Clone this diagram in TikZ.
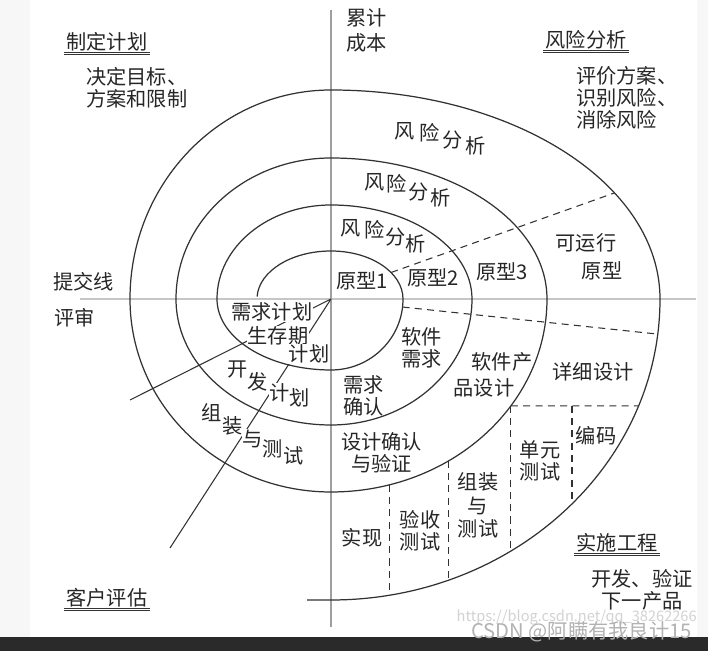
\documentclass[tikz,border=0pt]{standalone}
\usepackage{fontspec}
\setmainfont{Noto Sans CJK SC}
\usepackage{tikz}
\usetikzlibrary{calc}

\definecolor{inkgray}{RGB}{50,50,50}
\definecolor{bargray}{RGB}{42,42,42}

\begin{document}
\begin{tikzpicture}[every node/.style={font=\fontsize{11.5}{12.5}\selectfont},
  spiral/.style={draw=inkgray,line width=0.7pt},
  sector/.style={draw=inkgray,line width=0.6pt,dash pattern=on 4pt off 3pt},
  lbl/.style={inner sep=0.5pt,text=black!85},
  cover/.style={lbl,fill=white},
  hdr/.style={inner sep=1pt,text=black!85},
  uline/.style={draw=black!80,double=white,double distance=0.45pt,line width=0.55pt}]
\useasboundingbox (0,0) rectangle (14.16,13.02);
\fill[black!3] (0,0) rectangle (14.16,13.02);
\fill[white] (0.60,0.28) rectangle (13.94,13.02);
\fill[bargray] (0,0) rectangle (14.16,0.28);

\coordinate (O) at (6.62,7.04);
\coordinate (axtop) at (6.62,12.82);
\coordinate (axbot) at (6.62,0.48);
\coordinate (axleft) at (1.60,7.04);
\coordinate (axright) at (13.92,7.04);
\draw[gray!45,line width=0.8pt] (axleft) -- (axright);
\draw[gray!75,line width=0.8pt] (axtop) -- (axbot);

\draw[spiral] (O) ++(177:1.48 and 0.96)
  arc[start angle=177,end angle=90,x radius=1.48,y radius=0.96]
  arc[start angle=90,end angle=0,x radius=1.44,y radius=0.96]
  arc[start angle=0,end angle=-90,x radius=1.44,y radius=1.42]
  arc[start angle=-90,end angle=-180,x radius=2.28,y radius=1.42]
  arc[start angle=180,end angle=90,x radius=2.28,y radius=1.88]
  arc[start angle=90,end angle=0,x radius=2.82,y radius=1.88]
  arc[start angle=0,end angle=-90,x radius=2.82,y radius=2.52]
  arc[start angle=-90,end angle=-180,x radius=3.10,y radius=2.52]
  arc[start angle=180,end angle=90,x radius=3.10,y radius=2.82]
  arc[start angle=90,end angle=0,x radius=4.32,y radius=2.82]
  arc[start angle=0,end angle=-90,x radius=4.32,y radius=3.86]
  arc[start angle=-90,end angle=-180,x radius=4.02,y radius=3.86]
  arc[start angle=180,end angle=90,x radius=4.02,y radius=4.18]
  arc[start angle=90,end angle=0,x radius=6.58,y radius=4.18]
  arc[start angle=0,end angle=-90,x radius=6.58,y radius=6.02]
  -- ++(-0.48,0);

\coordinate (endA) at (2.60,5.02);
\coordinate (endB) at (3.40,2.06);
\draw[inkgray,line width=0.6pt] (O) -- (endA) (O) -- (endB);

% dashed sectors
\path (O) ++(33.5:1.44 and 0.96) coordinate (d1a);
\path (O) ++(30.5:6.58 and 4.18) coordinate (d1b);
\path (O) ++(-6.5:1.44 and 1.42) coordinate (d2a);
\path (O) ++(-6.7:6.58 and 6.02) coordinate (d2b);
\path (O) ++(-33.6:4.32 and 3.86) coordinate (g1);
\path (O) ++(-20.8:6.58 and 6.02) coordinate (g2);
\path (O) ++(-56.8:6.58 and 6.02) coordinate (v1b);
\path (O) ++(-42.9:6.58 and 6.02) coordinate (v2b);
\path (O) ++(-56.9:4.32 and 3.86) coordinate (v3t);
\path (O) ++(-69.0:6.58 and 6.02) coordinate (v3b);
\path (O) ++(-74.2:4.32 and 3.86) coordinate (v4t);
\path (O) ++(-79.7:6.58 and 6.02) coordinate (v4b);
\draw[sector] (d1a) -- (d1b);
\draw[sector] (d2a) -- (d2b);
\draw[sector] (g1) -- (g2);
\draw[sector] (g1) -- (g1 |- v1b);
\draw[sector] (v2b |- g1) -- (v2b);
\draw[sector] (v3t) -- (v3t |- v3b);
\draw[sector] (v4t) -- (v4t |- v4b);

% quadrant headings
\node[hdr] (plan) at (2.14,12.18) {制定计划};
\draw[uline] (plan.south west) -- (plan.south east);
\node[lbl,anchor=west,align=left] (plantxt) at (1.70,11.26) {决定目标、\\方案和限制};
\node[lbl,anchor=west,align=left] (cost) at (6.90,12.41) {累计\\[1.7pt]成本};
\node[hdr] (risk) at (11.72,12.22) {风险分析};
\draw[uline] (risk.south west) -- (risk.south east);
\node[lbl,anchor=west,align=left] (risktxt) at (11.50,11.07) {评价方案、\\识别风险、\\消除风险};
\node[lbl,anchor=west] (commit) at (1.04,7.38) {提交线};
\node[lbl,anchor=west] (review) at (1.06,6.66) {评审};
\node[hdr] (client) at (2.14,1.06) {客户评估};
\draw[uline] (client.south west) -- (client.south east);
\node[hdr] (eng) at (12.34,2.16) {实施工程};
\draw[uline] (eng.south west) -- (eng.south east);
\node[lbl,align=center] (engtxt) at (12.84,1.22) {开发、验证\\下一产品};

% risk analysis rings
\foreach \ch/\x/\y [count=\i] in {风/8.10/10.40,险/8.60/10.36,分/9.06/10.22,析/9.52/10.10}
  \node[lbl] (ra\i) at (\x,\y) {\ch};
\foreach \ch/\x/\y [count=\i] in {风/7.50/9.38,险/7.94/9.34,分/8.38/9.18,析/8.82/9.06}
  \node[lbl] (rb\i) at (\x,\y) {\ch};
\foreach \ch/\x/\y [count=\i] in {风/7.02/8.46,险/7.50/8.42,分/7.92/8.28,析/8.32/8.14}
  \node[lbl] (rc\i) at (\x,\y) {\ch};

\node[lbl] (proto1) at (7.24,7.40) {原型1};
\node[lbl] (proto2) at (8.66,7.46) {原型2};
\node[lbl] (proto3) at (10.04,7.58) {原型3};
\node[lbl] (run1) at (11.72,8.16) {可运行};
\node[lbl] (run2) at (12.04,7.60) {原型};

\node[lbl,align=center] (swreq) at (8.43,6.07) {软件\\需求};
\node[lbl,anchor=west,align=left] (reqok) at (6.84,5.11) {需求\\确认};
\node[lbl] (prod1) at (10.04,5.78) {软件产};
\node[lbl] (prod2) at (9.68,5.26) {品设计};
\node[lbl] (detail) at (11.86,5.58) {详细设计};
\node[lbl] (code) at (11.92,4.30) {编码};
\node[lbl,align=center] (unit) at (10.80,3.80) {单元\\测试};
\node[lbl,align=center] (integ) at (9.56,2.91) {组装\\[1pt]与\\[1pt]测试};
\node[lbl,align=center] (accept) at (8.40,2.40) {验收\\测试};
\node[lbl] (impl) at (7.24,2.26) {实现};
\node[lbl,align=center] (verify) at (7.63,3.97) {设计确认\\与验证};

\node[cover] (reqplan) at (5.44,6.78) {需求计划};
\node[cover] (life1) at (5.56,6.30) {生存期};
\node[cover] (life2) at (6.18,5.94) {计划};
\foreach \ch/\x/\y [count=\i] in {开/4.76/5.62,发/5.16/5.38,计/5.60/5.16,划/6.00/5.06}
  \node[cover] (dev\i) at (\x,\y) {\ch};
\foreach \ch/\x/\y [count=\i] in {组/4.24/4.76,装/4.66/4.50,与/5.06/4.24,测/5.46/4.04,试/5.88/3.90}
  \node[cover] (asm\i) at (\x,\y) {\ch};

\node[anchor=east,text=gray!35,font=\fontsize{8.3}{10}\selectfont,inner sep=0pt] (wmurl) at (13.94,0.66) {https://blog.csdn.net/qq\_38262266};
\node[anchor=east,text=gray!60,inner sep=0pt] (wmname) at (13.84,0.38) {CSDN @阿瞒有我良计15};
\end{tikzpicture}
\end{document}
